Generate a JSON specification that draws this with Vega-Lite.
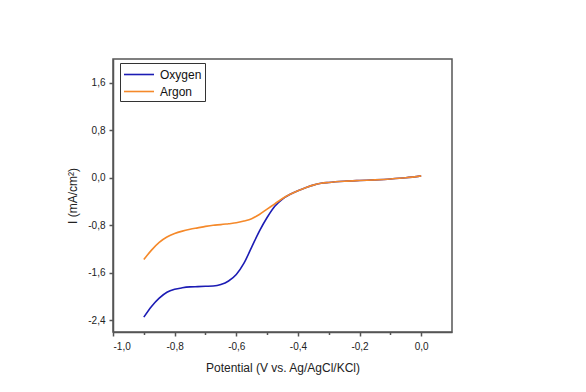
{
  "$schema": "https://vega.github.io/schema/vega-lite/v6.json",
  "autosize": "none",
  "width": 339,
  "height": 273,
  "padding": {"left": 113, "top": 59, "right": 134, "bottom": 60},
  "background": "white",
  "config": {
    "font": "Liberation Sans",
    "locale": {"number": {"decimal": ",", "thousands": ".", "grouping": [3], "currency": ["", ""], "minus": "-"}},
    "view": {"stroke": "#555555", "strokeWidth": 1.5},
    "axis": {"grid": false, "domainColor": "#555555", "domainWidth": 1.5, "tickColor": "#555555", "tickWidth": 1.5, "tickSize": 4, "labelColor": "#222222", "labelFont": "Liberation Sans", "labelFontSize": 10, "titleFont": "Liberation Sans", "titleFontSize": 12, "titleFontWeight": "normal", "titleColor": "#222222"}
  },
  "data": {"values": [
    {"v": -0.9, "i": -2.35, "s": "Oxygen"},
    {"v": -0.875, "i": -2.17, "s": "Oxygen"},
    {"v": -0.85, "i": -2.03, "s": "Oxygen"},
    {"v": -0.825, "i": -1.93, "s": "Oxygen"},
    {"v": -0.8, "i": -1.88, "s": "Oxygen"},
    {"v": -0.775, "i": -1.855, "s": "Oxygen"},
    {"v": -0.75, "i": -1.84, "s": "Oxygen"},
    {"v": -0.725, "i": -1.835, "s": "Oxygen"},
    {"v": -0.7, "i": -1.83, "s": "Oxygen"},
    {"v": -0.675, "i": -1.825, "s": "Oxygen"},
    {"v": -0.65, "i": -1.8, "s": "Oxygen"},
    {"v": -0.625, "i": -1.74, "s": "Oxygen"},
    {"v": -0.6, "i": -1.63, "s": "Oxygen"},
    {"v": -0.575, "i": -1.44, "s": "Oxygen"},
    {"v": -0.55, "i": -1.17, "s": "Oxygen"},
    {"v": -0.525, "i": -0.9, "s": "Oxygen"},
    {"v": -0.5, "i": -0.67, "s": "Oxygen"},
    {"v": -0.475, "i": -0.48, "s": "Oxygen"},
    {"v": -0.45, "i": -0.36, "s": "Oxygen"},
    {"v": -0.425, "i": -0.28, "s": "Oxygen"},
    {"v": -0.4, "i": -0.22, "s": "Oxygen"},
    {"v": -0.375, "i": -0.17, "s": "Oxygen"},
    {"v": -0.35, "i": -0.125, "s": "Oxygen"},
    {"v": -0.325, "i": -0.095, "s": "Oxygen"},
    {"v": -0.3, "i": -0.08, "s": "Oxygen"},
    {"v": -0.25, "i": -0.06, "s": "Oxygen"},
    {"v": -0.2, "i": -0.047, "s": "Oxygen"},
    {"v": -0.15, "i": -0.036, "s": "Oxygen"},
    {"v": -0.1, "i": -0.022, "s": "Oxygen"},
    {"v": -0.05, "i": -0.002, "s": "Oxygen"},
    {"v": 0.0, "i": 0.03, "s": "Oxygen"},
    {"v": -0.9, "i": -1.38, "s": "Argon"},
    {"v": -0.875, "i": -1.22, "s": "Argon"},
    {"v": -0.85, "i": -1.09, "s": "Argon"},
    {"v": -0.825, "i": -1.0, "s": "Argon"},
    {"v": -0.8, "i": -0.94, "s": "Argon"},
    {"v": -0.775, "i": -0.9, "s": "Argon"},
    {"v": -0.75, "i": -0.87, "s": "Argon"},
    {"v": -0.725, "i": -0.845, "s": "Argon"},
    {"v": -0.7, "i": -0.82, "s": "Argon"},
    {"v": -0.675, "i": -0.8, "s": "Argon"},
    {"v": -0.65, "i": -0.79, "s": "Argon"},
    {"v": -0.625, "i": -0.775, "s": "Argon"},
    {"v": -0.6, "i": -0.76, "s": "Argon"},
    {"v": -0.575, "i": -0.73, "s": "Argon"},
    {"v": -0.55, "i": -0.69, "s": "Argon"},
    {"v": -0.525, "i": -0.62, "s": "Argon"},
    {"v": -0.5, "i": -0.53, "s": "Argon"},
    {"v": -0.475, "i": -0.44, "s": "Argon"},
    {"v": -0.45, "i": -0.35, "s": "Argon"},
    {"v": -0.425, "i": -0.28, "s": "Argon"},
    {"v": -0.4, "i": -0.22, "s": "Argon"},
    {"v": -0.375, "i": -0.17, "s": "Argon"},
    {"v": -0.35, "i": -0.125, "s": "Argon"},
    {"v": -0.325, "i": -0.095, "s": "Argon"},
    {"v": -0.3, "i": -0.08, "s": "Argon"},
    {"v": -0.25, "i": -0.06, "s": "Argon"},
    {"v": -0.2, "i": -0.047, "s": "Argon"},
    {"v": -0.15, "i": -0.036, "s": "Argon"},
    {"v": -0.1, "i": -0.022, "s": "Argon"},
    {"v": -0.05, "i": -0.002, "s": "Argon"},
    {"v": 0.0, "i": 0.03, "s": "Argon"}
  ]},
  "layer": [
    {
      "mark": {"type": "line", "interpolate": "monotone", "strokeWidth": 1.6},
      "encoding": {
        "x": {"field": "v", "type": "quantitative", "scale": {"domain": [-1.0, 0.1], "nice": false, "zero": false},
              "axis": {"values": [-1.0, -0.8, -0.6, -0.4, -0.2, 0.0], "format": ".1f", "title": "Potential (V vs. Ag/AgCl/KCl)", "labelPadding": 5, "titlePadding": 11, "orient": "bottom"}},
        "y": {"field": "i", "type": "quantitative", "scale": {"domain": [-2.6, 2.0], "nice": false, "zero": false},
              "axis": {"values": [-2.4, -1.6, -0.8, 0.0, 0.8, 1.6], "format": ".1f", "title": "I (mA/cm²)", "labelPadding": 4, "titlePadding": 8}},
        "color": {"field": "s", "type": "nominal", "sort": ["Oxygen", "Argon"],
                  "scale": {"domain": ["Oxygen", "Argon"], "range": ["#1c1cb4", "#f5892a"]},
                  "legend": {"title": null, "orient": "none", "legendX": 7, "legendY": 4, "symbolType": "M-1,0H3", "symbolSize": 225, "symbolStrokeWidth": 1.6, "labelFontSize": 12, "labelColor": "#111111", "labelFont": "Liberation Sans", "strokeColor": "#333333", "padding": 3, "rowPadding": 2, "labelOffset": 20}},
        "order": {"field": "s", "type": "nominal", "sort": "descending"}
      }
    },
    {
      "mark": {"type": "line", "opacity": 0},
      "encoding": {
        "x": {"field": "v", "type": "quantitative", "scale": {"domain": [-1.0, 0.1], "nice": false, "zero": false},
              "axis": {"values": [-0.9, -0.7, -0.5, -0.3, -0.1], "labels": false, "title": null, "domain": false, "tickSize": 2.5, "orient": "bottom"}},
        "y": {"field": "i", "type": "quantitative"},
        "detail": {"field": "s"}
      }
    }
  ],
  "resolve": {"axis": {"x": "independent"}}
}
